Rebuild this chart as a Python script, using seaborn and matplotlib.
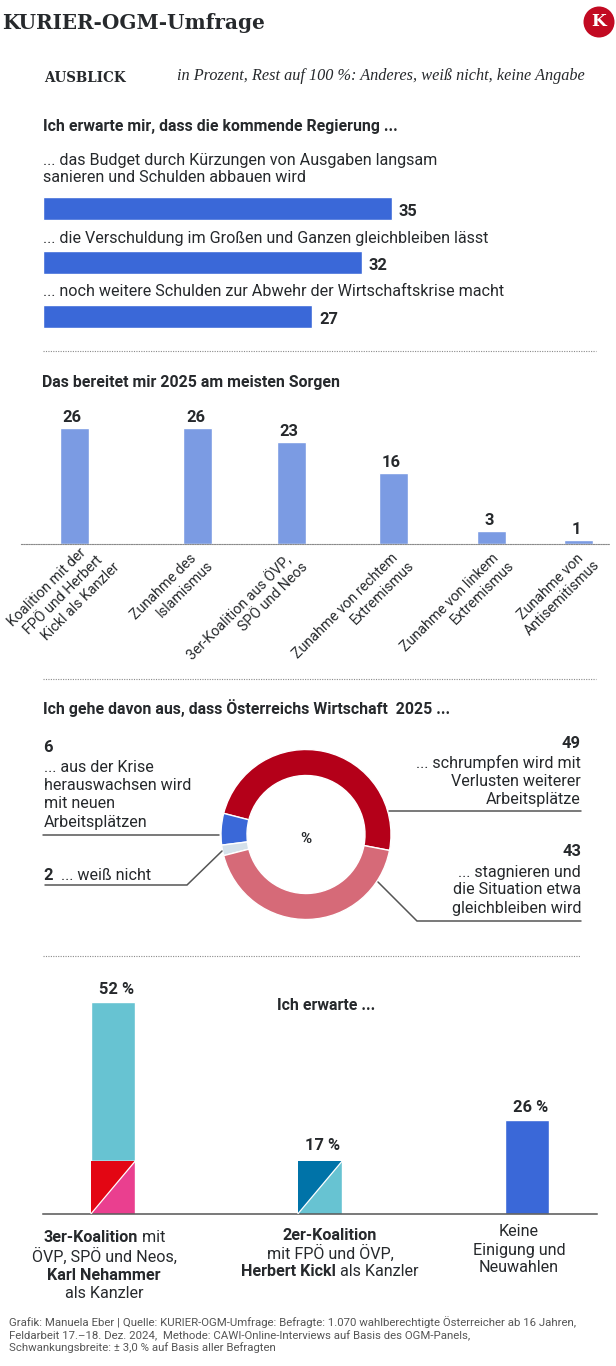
import matplotlib
matplotlib.use('Agg')
import matplotlib.pyplot as plt
import pandas as pd
import seaborn as sns
from matplotlib.patches import Circle, Polygon

# Data
regierung_labels = ['das Budget', 'gleichbleiben', 'weitere Schulden']
regierung_values = [35, 32, 27]

sorgen_labels = ['Koalition mit der\nFPÖ und Herbert\nKickl als Kanzler', 'Zunahme des\nIslamismus',
                 '3er-Koalition aus ÖVP,\nSPÖ und Neos', 'Zunahme von rechtem\nExtremismus',
                 'Zunahme von linkem\nExtremismus', 'Zunahme von\nAntisemitismus']
sorgen_values = [26, 26, 23, 16, 3, 1]

wirtschaft_values = [49, 6, 2, 43]
wirtschaft_colors = ['#B40019', '#3A68D8', '#D5E1EA', '#D66A78']

# the bars in the source are not proportional to their printed labels,
# so drawn heights and printed percentages are kept apart
koalition_cats = ['3er', '2er', 'Neuwahl']
koalition_labels = ['52 %', '17 %', '26 %']
koalition_upper = [39, 0, 23]
koalition_lower = [13, 13, 0]

W, H = 616, 1366
TEXT = '#26292C'
BLUE = '#3A68D8'
LIGHT_BLUE = '#7B9BE3'
TEAL = '#67C3D2'
BODY = 16.1
HEAD = 15.9

sns.set_theme(style='white')
plt.rcParams['font.family'] = ['Roboto', 'DejaVu Sans']

fig = plt.figure(figsize=(W / 100, H / 100), dpi=100, facecolor='white')


def px(size):
    return size * 72 / 100


def px_axes(left, top, right, bottom):
    ax = fig.add_axes([left / W, 1 - bottom / H, (right - left) / W, (bottom - top) / H])
    ax.patch.set_alpha(0)
    sns.despine(ax=ax, left=True, bottom=True)
    return ax


# overlay in picture pixels, for headings and leader lines
page = px_axes(0, 0, W, H)
page.set(xticks=[], yticks=[])
page.set_xlim(0, W)
page.set_ylim(H, 0)
page.set_zorder(5)


def say(x, y, s, size=BODY, weight='normal', ha='left', color=TEXT, **kw):
    return page.text(x, y + 1, s, fontsize=px(size), fontweight=weight, ha=ha, va='center', color=color, **kw)


def mixed_line(cx, y, parts, size=BODY):
    # one centred line with bold and regular pieces
    renderer = fig.canvas.get_renderer()
    pieces = [say(0, y, s, size=size, weight=w) for s, w in parts]
    widths = [p.get_window_extent(renderer).width for p in pieces]
    x = cx - sum(widths) / 2
    for p, width in zip(pieces, widths):
        p.set_x(x)
        x += width


def dotted(y, x0, x1):
    page.plot([x0, x1], [y, y], color='#8A8A8A', lw=0.8, ls=(0, (1, 1.2)))


def leader(xs, ys):
    page.plot(xs, ys, color='#555555', lw=1.1, solid_joinstyle='miter')


# header
say(2, 22, 'KURIER-OGM-Umfrage', size=20, weight='bold', family='DejaVu Serif')
page.add_patch(Circle((599, 22), 15.5, color='#C20A22', lw=0))
say(599, 21, 'K', size=17, weight='bold', ha='center', color='white', family='DejaVu Serif')
say(44, 77, 'AUSBLICK', size=13.5, weight='bold', family='DejaVu Serif')
say(177, 75, 'in Prozent, Rest auf 100 %: Anderes, weiß nicht, keine Angabe', size=16.3,
    family='Liberation Serif', style='italic')

# Ich erwarte mir ...
say(43, 125, 'Ich erwarte mir, dass die kommende Regierung ...', size=HEAD, weight='bold')
say(43, 159, '... das Budget durch Kürzungen von Ausgaben langsam')
say(43, 177, 'sanieren und Schulden abbauen wird')
say(43, 237, '... die Verschuldung im Großen und Ganzen gleichbleiben lässt')
say(43, 291, '... noch weitere Schulden zur Abwehr der Wirtschaftskrise macht')

ax1 = px_axes(43, 181.5, W, 343.5)
df1 = pd.DataFrame({'label': regierung_labels, 'value': regierung_values})
sns.barplot(df1, x='value', y='label', color=BLUE, saturation=1, width=23 / 54, ax=ax1)
ax1.set_xlim(0, (W - 43) / 9.96)
ax1.set_ylim(2.5, -0.5)
ax1.set(xticks=[], yticks=[], xlabel='', ylabel='')
for i, v in enumerate(regierung_values):
    ax1.annotate(str(v), (v, i), xytext=(7, -3), textcoords='offset pixels', ha='left', va='center',
                 fontsize=px(16.5), fontweight='bold', color=TEXT)

dotted(351, 43, 596)

# Sorgen
say(42, 382, 'Das bereitet mir 2025 am meisten Sorgen', size=HEAD, weight='bold')
sorgen_x = [74, 197.5, 291, 393.5, 491.5, 578]
sorgen_label_xy = [(84, 550), (194, 555), (289, 557), (396, 555), (496, 555), (581, 555)]

ax2 = px_axes(21, 400, 610, 544)
sns.barplot(x=sorgen_x, y=sorgen_values, native_scale=True, color=LIGHT_BLUE, saturation=1,
            width=29 / 86.5, ax=ax2)
ax2.set_xlim(21, 610)
ax2.set_ylim(0, 144 / 4.45)
ax2.set(xticks=[], yticks=[], xlabel='', ylabel='')
ax2.spines['bottom'].set_visible(True)
ax2.spines['bottom'].set_color('#8A8A8A')
ax2.spines['bottom'].set_linewidth(0.8)
ax2.spines['bottom'].set_linestyle((0, (1, 1.2)))
for x, v in zip(sorgen_x, sorgen_values):
    ax2.annotate(str(v), (x, v), xytext=(-2, 3), textcoords='offset pixels', ha='center', va='bottom',
                 fontsize=px(16.5), fontweight='bold', color=TEXT)
# rotated labels: every next line steps right and down from the first one
for (x, y), s in zip(sorgen_label_xy, sorgen_labels):
    for n, line in enumerate(s.split('\n')):
        say(x + 16.5 * n, y + 7 * n, line, size=14.2, ha='right', rotation=45, rotation_mode='anchor')

dotted(679, 43, 596)

# Wirtschaft
say(43, 707, 'Ich gehe davon aus, dass Österreichs Wirtschaft  2025 ...', size=HEAD, weight='bold')
ax3 = px_axes(216, 744.5, 396, 924.5)
ax3.pie(wirtschaft_values, colors=wirtschaft_colors, startangle=-10.8, counterclock=True, radius=85 / 90,
        wedgeprops={'width': 26 / 90, 'edgecolor': 'white', 'linewidth': 1})
ax3.set_xlim(-1, 1)
ax3.set_ylim(-1, 1)
say(306, 838, '%', size=15, weight='bold', ha='center')

say(43.5, 746, '6', size=16.5, weight='bold')
for y, s in zip([766, 784, 802.5, 821], ['... aus der Krise', 'herauswachsen wird', 'mit neuen', 'Arbeitsplätzen']):
    say(43.5, y, s)
leader([43, 219], [834.7, 834.7])
say(43.5, 874, '2', size=16.5, weight='bold')
say(61, 874, '... weiß nicht')
leader([45, 187, 222], [885, 885, 851])
say(581, 743, '49', size=16.5, weight='bold', ha='right')
for y, s in zip([762, 780, 798.5], ['... schrumpfen wird mit', 'Verlusten weiterer', 'Arbeitsplätze']):
    say(581, y, s, ha='right')
leader([389, 581], [811, 811])
say(581, 851, '43', size=16.5, weight='bold', ha='right')
for y, s in zip([871, 889, 907.5], ['... stagnieren und', 'die Situation etwa', 'gleichbleiben wird']):
    say(581, y, s, ha='right')
leader([378, 417, 581], [882, 921, 921])

dotted(956, 43, 580)

# Koalition
say(326, 1005, 'Ich erwarte ...', size=HEAD, weight='bold', ha='center')
ax4 = px_axes(43, 990, 597, 1214)
df4 = pd.DataFrame({'cat': koalition_cats, 'lower': koalition_lower, 'upper': koalition_upper})
step = 206.9
bar_w = 44.5 / step
sns.barplot(df4, x='cat', y='upper', bottom=df4['lower'], color=TEAL, saturation=1, width=bar_w, ax=ax4)
sns.barplot(df4, x='cat', y='lower', color=TEAL, saturation=1, width=bar_w, ax=ax4)
ax4.set_xlim((43 - 113.1) / step, (597 - 113.1) / step)
ax4.set_ylim(0, 224 / 4.08)
ax4.set(xticks=[], yticks=[], xlabel='', ylabel='')
ax4.spines['bottom'].set_visible(True)
ax4.spines['bottom'].set_color('#555555')
ax4.spines['bottom'].set_linewidth(1.1)

# third bar is plain blue, lower segments are split along the diagonal
ax4.containers[0][2].set_facecolor(BLUE)
split_colors = [('#E30613', '#EA3F8F'), ('#0073A8', TEAL)]
for bar, (top_c, bottom_c) in zip(ax4.containers[1], split_colors):
    x0, y0 = bar.get_x(), bar.get_y()
    x1, y1 = x0 + bar.get_width(), y0 + bar.get_height()
    bar.set_facecolor(bottom_c)
    ax4.add_patch(Polygon([(x0, y0), (x0, y1), (x1, y1)], closed=True, facecolor=top_c, lw=0, zorder=3))
    ax4.plot([x0, x1], [y0, y1], color='white', lw=0.9, zorder=4)

say(117, 989, koalition_labels[0], size=16.5, weight='bold', ha='center')
say(322.5, 1144, koalition_labels[1], size=16.5, weight='bold', ha='center')
say(531, 1107, koalition_labels[2], size=16.5, weight='bold', ha='center')

fig.canvas.draw()
mixed_line(104, 1237, [('3er-Koalition', 'bold'), (' mit', 'normal')])
mixed_line(104, 1255, [('ÖVP, SPÖ und Neos,', 'normal')])
mixed_line(104, 1274, [('Karl Nehammer', 'bold')])
mixed_line(104, 1293, [('als Kanzler', 'normal')])
mixed_line(330, 1234, [('2er-Koalition', 'bold')])
mixed_line(330, 1252, [('mit FPÖ und ÖVP,', 'normal')])
mixed_line(330, 1271, [('Herbert Kickl', 'bold'), (' als Kanzler', 'normal')])
mixed_line(519, 1231, [('Keine', 'normal')])
mixed_line(519, 1249, [('Einigung und', 'normal')])
mixed_line(519, 1267, [('Neuwahlen', 'normal')])

# footer
footer = ['Grafik: Manuela Eber | Quelle: KURIER-OGM-Umfrage: Befragte: 1.070 wahlberechtigte Österreicher ab 16 Jahren,',
          'Feldarbeit 17.–18. Dez. 2024,  Methode: CAWI-Online-Interviews auf Basis des OGM-Panels,',
          'Schwankungsbreite: ± 3,0 % auf Basis aller Befragten']
for y, s in zip([1321.5, 1334.5, 1347], footer):
    say(9, y, s, size=11.35, color='#555555')

fig.savefig('out.png', dpi=100, facecolor='white')
